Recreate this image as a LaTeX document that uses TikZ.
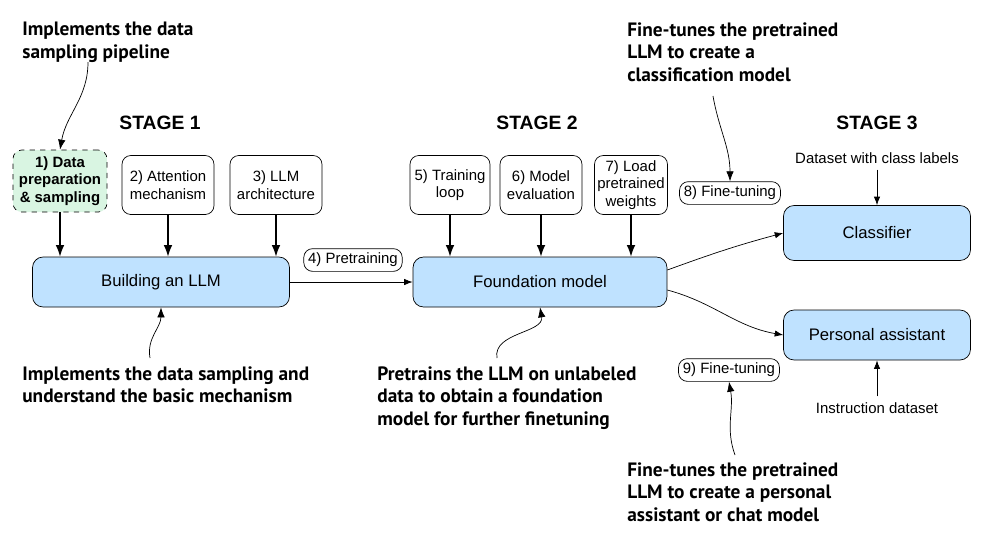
\documentclass[tikz,border=0pt]{standalone}
\usepackage{fontspec}
\setmainfont{Liberation Sans}
\newfontfamily\notefont{PT Sans}
\usetikzlibrary{positioning,arrows.meta}

\begin{document}
\begin{tikzpicture}[
      x=0.02cm, y=-0.02cm,
      >=Latex,
      step box/.style={draw, rounded corners=5pt, fill=white, align=center, font=\fontsize{8.5}{10}\selectfont, minimum width=1.84cm, minimum height=1.18cm, inner sep=1pt},
      main box/.style={draw, rounded corners=6pt, fill=blue!45!cyan!25!white, font=\fontsize{9.5}{11}\selectfont, minimum height=1cm},
      tag box/.style={draw, rounded corners=5pt, fill=white, font=\fontsize{8.5}{10}\selectfont, inner sep=2.5pt},
      note/.style={align=left, font=\notefont\bfseries\fontsize{11}{13}\selectfont, inner sep=0pt},
      stage/.style={font=\bfseries\fontsize{11}{13}\selectfont},
      curvy/.style={->, thin, >={Latex[length=2mm]}}
    ]
    \useasboundingbox (0,0) rectangle (991,532);

    % Stage titles
    \node[stage] (s1) at (160,123) {STAGE 1};
    \node[stage] (s2) at (537,123) {STAGE 2};
    \node[stage] (s3) at (877,123) {STAGE 3};

    % Stage 1 boxes
    \node[step box, dashed, fill=green!50!teal!15!white, minimum width=1.88cm, minimum height=1.24cm, font=\bfseries\fontsize{8.5}{10}\selectfont] (data) at (60,181) {1) Data\\preparation\\\& sampling};
    \node[step box] (attn) at (168,185) {2) Attention\\mechanism};
    \node[step box] (arch) at (276,185) {3) LLM\\architecture};
    \node[main box, minimum width=5.14cm] (build) at (161,282) {Building an LLM};

    % Stage 2 boxes
    \node[step box, minimum width=1.6cm] (train) at (450,185) {5) Training\\loop};
    \node[step box, minimum width=1.64cm] (eval) at (541,185) {6) Model\\evaluation};
    \node[step box, minimum width=1.46cm] (load) at (631,185) {7) Load\\pretrained\\weights};
    \node[main box, minimum width=5.08cm] (found) at (540,282) {Foundation model};

    % Stage 3 boxes
    \node[main box, minimum width=3.74cm, minimum height=1.1cm] (cls) at (877,233) {Classifier};
    \node[main box, minimum width=3.74cm, minimum height=1.0cm] (pa) at (877,335) {Personal assistant};
    \node[font=\fontsize{8.5}{10}\selectfont] (clsdata) at (877,158) {Dataset with class labels};
    \node[font=\fontsize{8.5}{10}\selectfont] (insdata) at (877,408) {Instruction dataset};

    % Tags
    \node[tag box] (pre) at (353,260) {4) Pretraining};
    \node[tag box] (ft1) at (730,193) {8) Fine-tuning};
    \node[tag box] (ft2) at (729,370) {9) Fine-tuning};

    % Arrows
    \draw[->, thick] (data) -- (data |- build.north);
    \draw[->, thick] (attn) -- (attn |- build.north);
    \draw[->, thick] (arch) -- (arch |- build.north);
    \draw[->, thick] (train) -- (train |- found.north);
    \draw[->, thick] (eval) -- (eval |- found.north);
    \draw[->, thick] (load) -- (load |- found.north);
    \draw[->] (build) -- (found);
    \draw[->] (found.east) ++(0,-12) coordinate (f1) (f1) to[out=20, in=195] (cls.west);
    \draw[->] (found.east) ++(0,8) coordinate (f2) (f2) to[out=-15, in=170] (pa.west);
    \draw[->] (clsdata) -- (cls);
    \draw[->] (insdata) -- (pa);

    % Notes
    \node[note, anchor=north west] (n1) at (22,22) {Implements the data\\sampling pipeline};
    \node[note, anchor=north west] (n2) at (22,366) {Implements the data sampling and\\understand the basic mechanism};
    \node[note, anchor=north west] (n3) at (377,366) {Pretrains the LLM on unlabeled\\data to obtain a foundation\\model for further finetuning};
    \node[note, anchor=north west] (n4) at (627,22) {Fine-tunes the pretrained\\LLM to create a\\classification model};
    \node[note, anchor=north west] (n5) at (627,462) {Fine-tunes the pretrained\\LLM to create a personal\\assistant or chat model};

    % Note pointers
    \coordinate (p1) at (88,62);
    \coordinate (p2) at (150,358);
    \coordinate (p3) at (497,358);
    \coordinate (p4) at (713,96);
    \coordinate (p5) at (735,455);
    \draw[curvy] (p1) to[out=-90, in=80] (data.north);
    \draw[curvy] (p2) to[out=100, in=-90] (build.south);
    \draw[curvy] (p3) to[out=100, in=-80] (found.south);
    \draw[curvy] (p4) to[out=-80, in=90] (ft1.north);
    \draw[curvy] (p5) to[out=110, in=-80] (ft2.south);

  \end{tikzpicture}
\end{document}
